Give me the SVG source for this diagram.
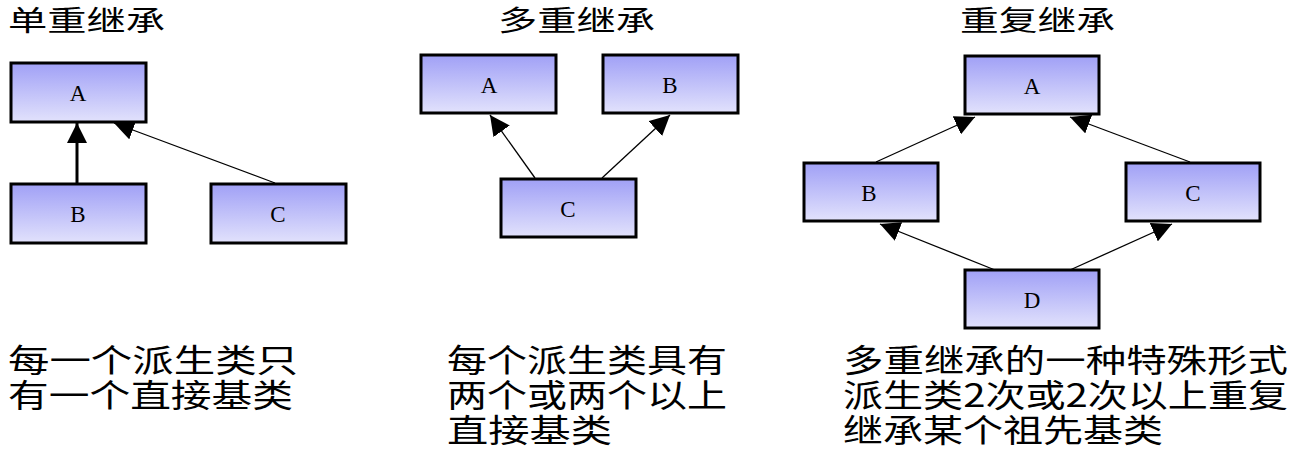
<svg xmlns="http://www.w3.org/2000/svg" width="1297" height="450" viewBox="0 0 1297 450">
<style>
.n rect{stroke:#000;stroke-width:3;fill:url(#g)}
.n text{font-family:"Liberation Serif",serif;font-size:23px;text-anchor:middle;fill:#000}
.t{font-family:"Noto Sans CJK SC",sans-serif;font-size:28px;fill:#000}
.d{font-family:"Noto Sans CJK SC",sans-serif;font-size:32px;fill:#000}
#e line{stroke:#000;stroke-width:1.3;marker-end:url(#m)}
</style>
<defs>
<linearGradient id="g" x1="0" y1="0" x2="0" y2="1"><stop offset="0" stop-color="#a0a0f6"/><stop offset="1" stop-color="#e2e2fc"/></linearGradient>
<marker id="m" viewBox="0 0 10 10" refX="10" refY="5" markerWidth="20" markerHeight="20" markerUnits="userSpaceOnUse" orient="auto"><path d="M0,0L10,5L0,10Z" fill="#000"/></marker>
</defs>
<text class="t" x="8" y="31" textLength="157" lengthAdjust="spacingAndGlyphs">单重继承</text>
<text class="t" x="498" y="31" textLength="157" lengthAdjust="spacingAndGlyphs">多重继承</text>
<text class="t" x="960" y="31" textLength="155" lengthAdjust="spacingAndGlyphs">重复继承</text>
<g id="e">
<line x1="77" y1="183" x2="77" y2="123" style="stroke-width:3"/>
<line x1="275" y1="183" x2="114" y2="123"/>
<line x1="535" y1="178" x2="490" y2="115"/>
<line x1="602" y1="178" x2="670" y2="115"/>
<line x1="876" y1="162" x2="975" y2="117"/>
<line x1="1190" y1="162" x2="1070" y2="117"/>
<line x1="995" y1="270" x2="880" y2="224"/>
<line x1="1070" y1="270" x2="1172" y2="224"/>
</g>
<g id="L_A" class="n"><rect x="11" y="63" width="135" height="59"/><text x="78" y="101">A</text></g>
<g id="L_B" class="n"><rect x="11" y="184" width="135" height="59"/><text x="78" y="222">B</text></g>
<g id="L_C" class="n"><rect x="211" y="184" width="135" height="59"/><text x="278" y="222">C</text></g>
<g id="M_A" class="n"><rect x="421" y="55" width="135" height="58"/><text x="489" y="93">A</text></g>
<g id="M_B" class="n"><rect x="603" y="55" width="135" height="58"/><text x="670" y="93">B</text></g>
<g id="M_C" class="n"><rect x="501" y="179" width="135" height="58"/><text x="568" y="217">C</text></g>
<g id="R_A" class="n"><rect x="965" y="56" width="134" height="58"/><text x="1032" y="94">A</text></g>
<g id="R_B" class="n"><rect x="804" y="163" width="134" height="58"/><text x="869" y="201">B</text></g>
<g id="R_C" class="n"><rect x="1126" y="163" width="134" height="58"/><text x="1193" y="201">C</text></g>
<g id="R_D" class="n"><rect x="965" y="270" width="134" height="58"/><text x="1032" y="308">D</text></g>
<text class="d" x="8" y="372" textLength="290" lengthAdjust="spacingAndGlyphs">每一个派生类只</text>
<text class="d" x="8" y="407" textLength="285" lengthAdjust="spacingAndGlyphs">有一个直接基类</text>
<text class="d" x="447" y="372" textLength="280" lengthAdjust="spacingAndGlyphs">每个派生类具有</text>
<text class="d" x="447" y="407" textLength="280" lengthAdjust="spacingAndGlyphs">两个或两个以上</text>
<text class="d" x="447" y="442" textLength="165" lengthAdjust="spacingAndGlyphs">直接基类</text>
<text class="d" x="843" y="372" textLength="445" lengthAdjust="spacingAndGlyphs">多重继承的一种特殊形式</text>
<text class="d" x="843" y="407" textLength="445" lengthAdjust="spacingAndGlyphs">派生类2次或2次以上重复</text>
<text class="d" x="843" y="442" textLength="320" lengthAdjust="spacingAndGlyphs">继承某个祖先基类</text>
</svg>
